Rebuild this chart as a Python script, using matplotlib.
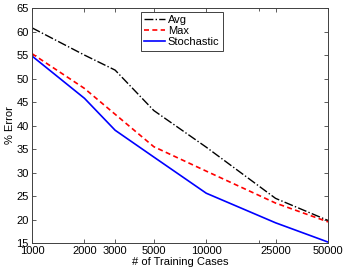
import matplotlib
matplotlib.use('Agg')
import matplotlib.pyplot as plt
from matplotlib.ticker import FixedLocator, NullFormatter

# training set sizes and % error per method
cases = [1000, 2000, 3000, 5000, 10000, 25000, 50000]
avg_err = [60.8, 55.0, 51.8, 43.2, 35.4, 24.5, 19.8]
max_err = [55.3, 47.9, 42.4, 35.5, 30.3, 23.5, 19.5]
sto_err = [54.8, 45.8, 39.0, 33.3, 25.6, 19.3, 15.2]
tick_labels = ['1000', '2000', '3000', '5000', '10000', '25000', '50000']

plt.rcParams['font.family'] = ['Liberation Sans', 'DejaVu Sans']
plt.rcParams['font.size'] = 8

fig = plt.figure(figsize=(3.46, 2.70), dpi=100)
ax = fig.add_axes([0.0925, 0.10, 0.8555, 0.87])

ax.plot(cases, avg_err, color='k', linestyle='-.', linewidth=1.0, label='Avg')
ax.plot(cases, max_err, color='r', linestyle='--', linewidth=1.2, dashes=(3, 2), label='Max')
ax.plot(cases, sto_err, color='b', linestyle='-', linewidth=1.2, label='Stochastic')

ax.set_xscale('log')
ax.set_xlim(1000, 50000)
ax.set_ylim(15, 65)
ax.xaxis.set_major_locator(FixedLocator(cases))
ax.set_xticklabels(tick_labels)
ax.xaxis.set_minor_locator(FixedLocator([20000]))
ax.xaxis.set_minor_formatter(NullFormatter())
ax.set_yticks(range(15, 66, 5))

ax.tick_params(which='both', direction='in', top=True, right=True, colors='#404040',
               labelcolor='k', width=0.6)
ax.tick_params(which='major', length=3)
ax.tick_params(which='minor', length=2)
ax.tick_params(axis='x', pad=2.5)
ax.tick_params(axis='y', pad=2.5)
for s in ax.spines.values():
    s.set_color('#404040')
    s.set_linewidth(0.7)

ax.set_xlabel('# of Training Cases', labelpad=0.5)
ax.set_ylabel('% Error', labelpad=0.5)

leg = ax.legend(loc='upper left', bbox_to_anchor=(0.367, 0.985), fancybox=False,
                framealpha=1, edgecolor='#404040', handlelength=1.9,
                borderpad=0.3, labelspacing=0.1, handletextpad=0.25,
                borderaxespad=0)
leg.get_frame().set_linewidth(0.7)

fig.savefig('out.png', dpi=100)
